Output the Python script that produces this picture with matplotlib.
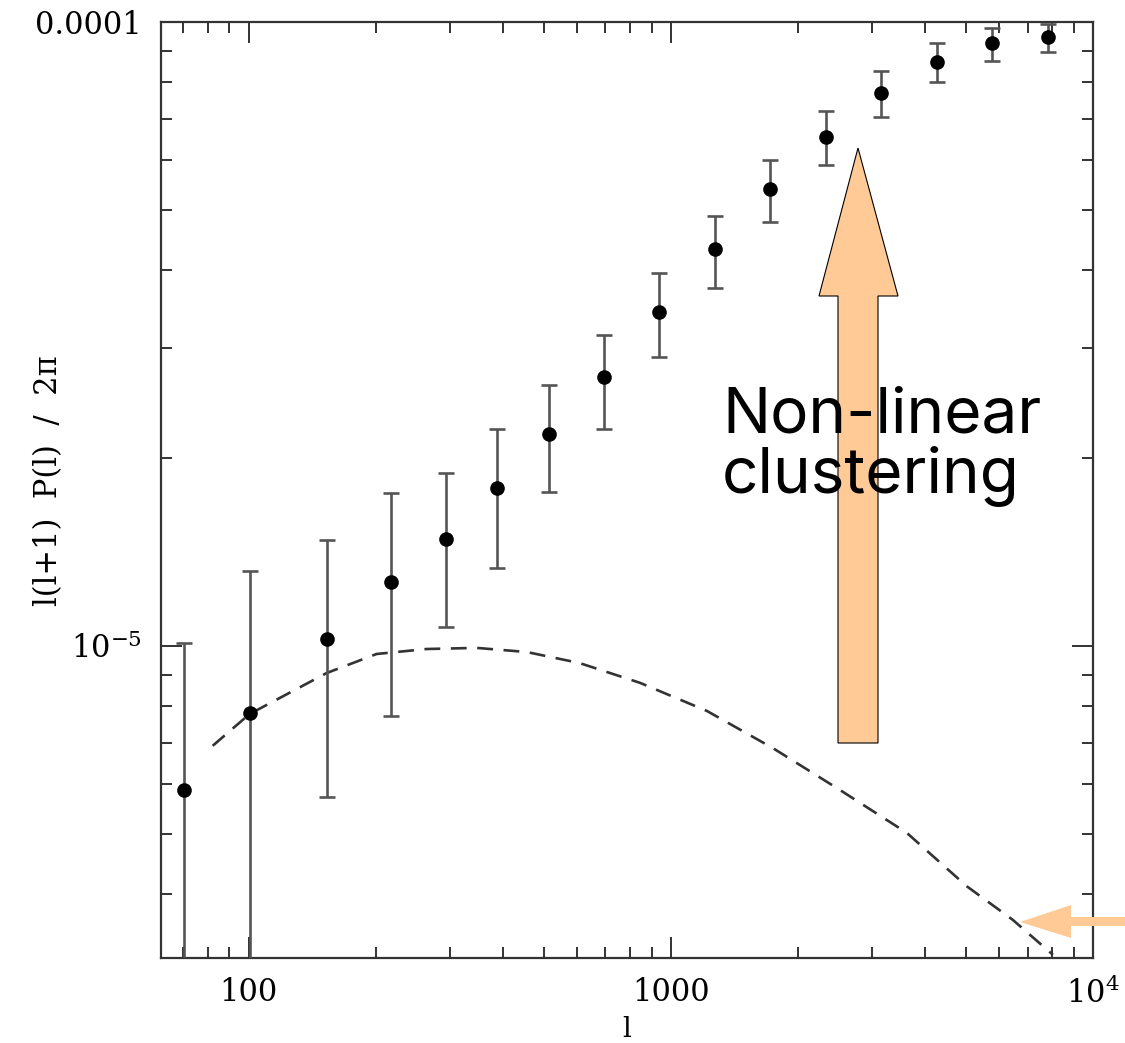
import matplotlib
matplotlib.use("Agg")
import matplotlib.pyplot as plt
from matplotlib.patches import Polygon
from matplotlib.ticker import FixedLocator, FixedFormatter, LogLocator, NullFormatter
import numpy as np

# ---- data ----
ell = [70.2, 100.5, 153, 217, 293, 387, 514, 693, 937, 1271, 1717, 2328, 3148, 4266, 5768, 7815]
power = [5.88e-6, 7.81e-6, 1.026e-5, 1.267e-5, 1.484e-5, 1.79e-5, 2.19e-5, 2.70e-5,
         3.43e-5, 4.33e-5, 5.40e-5, 6.54e-5, 7.69e-5, 8.62e-5, 9.25e-5, 9.46e-5]
upper = [1.01e-5, 1.318e-5, 1.479e-5, 1.758e-5, 1.89e-5, 2.23e-5, 2.62e-5, 3.15e-5,
         3.96e-5, 4.89e-5, 6.01e-5, 7.20e-5, 8.34e-5, 9.25e-5, 9.78e-5, 9.93e-5]
lower = [1e-6, 1e-6, 5.73e-6, 7.72e-6, 1.072e-5, 1.333e-5, 1.765e-5, 2.23e-5,
         2.90e-5, 3.75e-5, 4.78e-5, 5.90e-5, 7.04e-5, 8.02e-5, 8.67e-5, 8.95e-5]

model_ell = [82.2, 100.5, 153, 201, 264, 347, 456, 608, 845, 1217, 1745, 2514, 3620, 5025, 6457, 8036]
model_power = [6.92e-6, 7.78e-6, 9.05e-6, 9.71e-6, 9.89e-6, 9.93e-6, 9.78e-6, 9.39e-6,
               8.73e-6, 7.87e-6, 6.86e-6, 5.88e-6, 5.02e-6, 4.12e-6, 3.64e-6, 3.20e-6]

y_tick_values = [1e-5, 1e-4]
y_tick_labels = [r"$10^{-5}$", "0.0001"]
x_tick_values = [100, 1000, 10000]
x_tick_labels = ["100", "1000", r"$10^4$"]

annotation_text = "Non-linear\nclustering"

# ---- figure ----
W, H = 1125, 1043
plt.rcParams['font.family'] = ['DejaVu Serif']
plt.rcParams['mathtext.fontset'] = 'dejavuserif'
fig = plt.figure(figsize=(W / 100, H / 100), dpi=100)
ax = fig.add_axes([161 / W, 1 - 958 / H, (1093 - 161) / W, (958 - 22) / H])
ax.set_xscale('log')
ax.set_yscale('log')
ax.set_xlim(62, 10000)
ax.set_ylim(10 ** -5.5, 1e-4)

pw = np.array(power)
yerr = np.vstack([pw - np.array(lower), np.array(upper) - pw])
ax.errorbar(ell, power, yerr=yerr, fmt='o', color='black', ms=9.5,
            ecolor='#555555', elinewidth=1.9, capsize=6, capthick=1.9, zorder=3)

line, = ax.plot(model_ell, model_power, color='#333333', lw=1.9, zorder=2)
line.set_dashes((6, 4))

# ticks
ax.xaxis.set_major_locator(FixedLocator(x_tick_values))
ax.xaxis.set_major_formatter(FixedFormatter(x_tick_labels))
ax.xaxis.set_minor_locator(LogLocator(base=10, subs=np.arange(2, 10)))
ax.xaxis.set_minor_formatter(NullFormatter())
ax.yaxis.set_major_locator(FixedLocator(y_tick_values))
ax.yaxis.set_major_formatter(FixedFormatter(y_tick_labels))
ax.yaxis.set_minor_locator(LogLocator(base=10, subs=np.arange(2, 10)))
ax.yaxis.set_minor_formatter(NullFormatter())
ax.tick_params(which='both', direction='in', top=True, right=True, color='#333333')
ax.tick_params(which='major', length=15, width=1.4, labelsize=22, pad=14)
ax.tick_params(which='minor', length=8, width=1.4)
for s in ax.spines.values():
    s.set_linewidth(1.6)
    s.set_color('#333333')

ax.set_xlabel("l", fontsize=20)
ax.xaxis.set_label_coords(0.5, -0.062)
ax.set_ylabel("l(l+1)  P(l)  /  2π", fontsize=22)
ax.yaxis.set_label_coords(-0.104, 0.51)

# ---- annotations (pixel positions -> figure fraction) ----
def px(x, y):
    return (x / W, 1 - y / H)

peach = '#FFCA96'
big_arrow = [px(838, 743), px(838, 296), px(819, 296), px(858, 148),
             px(898, 296), px(878, 296), px(878, 743)]
fig.patches.append(Polygon(big_arrow, closed=True, transform=fig.transFigure,
                           facecolor=peach, edgecolor='black', lw=0.8, zorder=5))

small_arrow = [px(1125, 917), px(1071, 917), px(1071, 905), px(1020, 922),
               px(1071, 938), px(1071, 926), px(1125, 926)]
fig.patches.append(Polygon(small_arrow, closed=True, transform=fig.transFigure,
                           facecolor=peach, edgecolor='none', zorder=5))

tx, ty = px(722, 492)
fig.text(tx, ty, annotation_text, fontsize=46, family=['Inter', 'DejaVu Sans'],
         ha='left', va='baseline', linespacing=0.98, color='black', zorder=6)

fig.savefig("out.png", dpi=100)
